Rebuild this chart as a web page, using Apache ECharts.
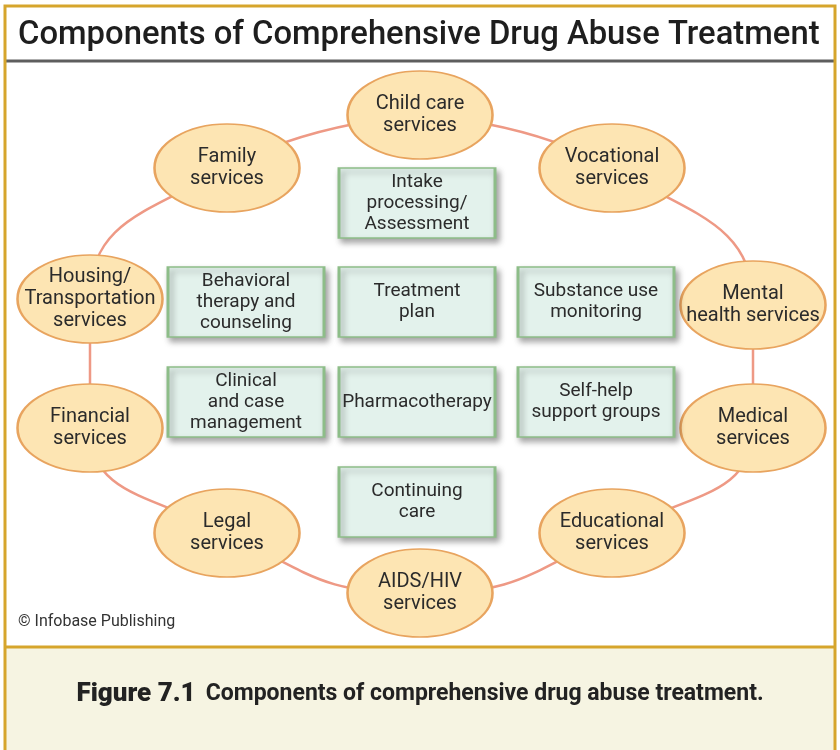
<!DOCTYPE html>
<html>
<head>
<meta charset="utf-8">
<script src="https://cdn.jsdelivr.net/npm/echarts@6/dist/echarts.min.js"></script>
<style>
  html, body { margin: 0; padding: 0; background: #fff; }
  #main { width: 840px; height: 750px; }
</style>
</head>
<body>
<div id="main"></div>
<script>
var myChart = echarts.init(document.getElementById('main'));

// outer ring of service ovals (clockwise from top)
var ovalNames = ['Child care\nservices', 'Vocational\nservices', 'Mental\nhealth services', 'Medical\nservices',
  'Educational\nservices', 'AIDS/HIV\nservices', 'Legal\nservices', 'Financial\nservices',
  'Housing/\nTransportation\nservices', 'Family\nservices'];
var ovalX = [420, 612, 753, 753, 612, 420, 227, 90, 90, 227];
var ovalY = [115, 168, 305, 428, 533, 593, 533, 428, 299, 168];

// core treatment boxes
var boxNames = ['Intake\nprocessing/\nAssessment', 'Behavioral\ntherapy and\ncounseling', 'Treatment\nplan',
  'Substance use\nmonitoring', 'Clinical\nand case\nmanagement', 'Pharmacotherapy', 'Self-help\nsupport groups',
  'Continuing\ncare'];
var boxX = [417, 246, 417, 596, 246, 417, 596, 417];
var boxY = [203, 302, 302, 302, 402, 402, 402, 502];

var gold = '#d6a52c';
var textColor = '#2b2b2b';

var ovalData = ovalNames.map(function (n, i) { return { name: n, value: [ovalX[i], ovalY[i]] }; });
var boxData = boxNames.map(function (n, i) { return { name: n, value: [boxX[i], boxY[i]] }; });
var ringData = ovalX.map(function (x, i) { return [x, ovalY[i]]; });
ringData.push([ovalX[0], ovalY[0]]);

var option = {
  animation: false,
  backgroundColor: '#fff',
  title: [
    {
      text: 'Components of Comprehensive Drug Abuse Treatment',
      left: 18,
      top: 19,
      padding: 0,
      textStyle: { fontFamily: 'Roboto', fontSize: 32.8, fontWeight: 500, color: '#1e1e1e' }
    },
    {
      text: '{a|Figure 7.1}  {b|Components of comprehensive drug abuse treatment.}',
      left: 'center',
      top: 681,
      padding: 0,
      textStyle: {
        rich: {
          a: { fontFamily: 'Roboto', fontSize: 26, fontWeight: 900, color: '#222' },
          b: { fontFamily: 'Roboto', fontSize: 23, fontWeight: 'bold', color: '#222' }
        }
      }
    },
    {
      text: '\u00a9 Infobase Publishing',
      left: 18,
      top: 614,
      padding: 0,
      textStyle: { fontFamily: 'Roboto', fontSize: 16, fontWeight: 'normal', color: '#333' }
    }
  ],
  graphic: [
    { type: 'rect', z: -10, shape: { x: 5, y: 647, width: 830, height: 110 }, style: { fill: '#f6f4e2' } },
    { type: 'line', z: -5, shape: { x1: 5, y1: 647, x2: 835, y2: 647 }, style: { stroke: gold, lineWidth: 3 } },
    { type: 'line', z: -5, shape: { x1: 5, y1: 61, x2: 835, y2: 61 }, style: { stroke: '#5e5e5e', lineWidth: 3 } },
    { type: 'rect', z: -5, shape: { x: 5, y: 6, width: 830, height: 760 }, style: { fill: 'none', stroke: gold, lineWidth: 3 } }
  ],
  grid: { left: 0, right: 0, top: 0, bottom: 0 },
  xAxis: { type: 'value', min: 0, max: 840, show: false },
  yAxis: { type: 'value', min: 0, max: 750, inverse: true, show: false },
  series: [
    {
      type: 'line',
      data: ringData,
      smooth: 0.5,
      symbol: 'none',
      z: 1,
      lineStyle: { color: '#ee9985', width: 2.5 }
    },
    {
      type: 'scatter',
      data: ovalData,
      symbol: 'circle',
      symbolSize: [145, 88],
      z: 3,
      itemStyle: { color: '#fde5b3', borderColor: '#e8a45f', borderWidth: 2, opacity: 1 },
      label: {
        show: true,
        position: 'inside',
        formatter: '{b}',
        fontFamily: 'Roboto',
        fontSize: 20,
        lineHeight: 22,
        color: textColor
      }
    },
    {
      type: 'scatter',
      data: boxData,
      symbol: 'rect',
      symbolSize: [156, 70],
      z: 3,
      itemStyle: {
        color: '#e3f2ec',
        borderColor: '#8dbd88',
        borderWidth: 2,
        opacity: 1,
        shadowColor: 'rgba(0,0,0,0.35)',
        shadowBlur: 6,
        shadowOffsetX: 3,
        shadowOffsetY: 4
      },
      label: {
        show: true,
        position: 'inside',
        formatter: '{b}',
        fontFamily: 'Roboto',
        fontSize: 19,
        lineHeight: 21,
        color: textColor
      }
    }
  ]
};
myChart.setOption(option);
</script>
</body>
</html>
